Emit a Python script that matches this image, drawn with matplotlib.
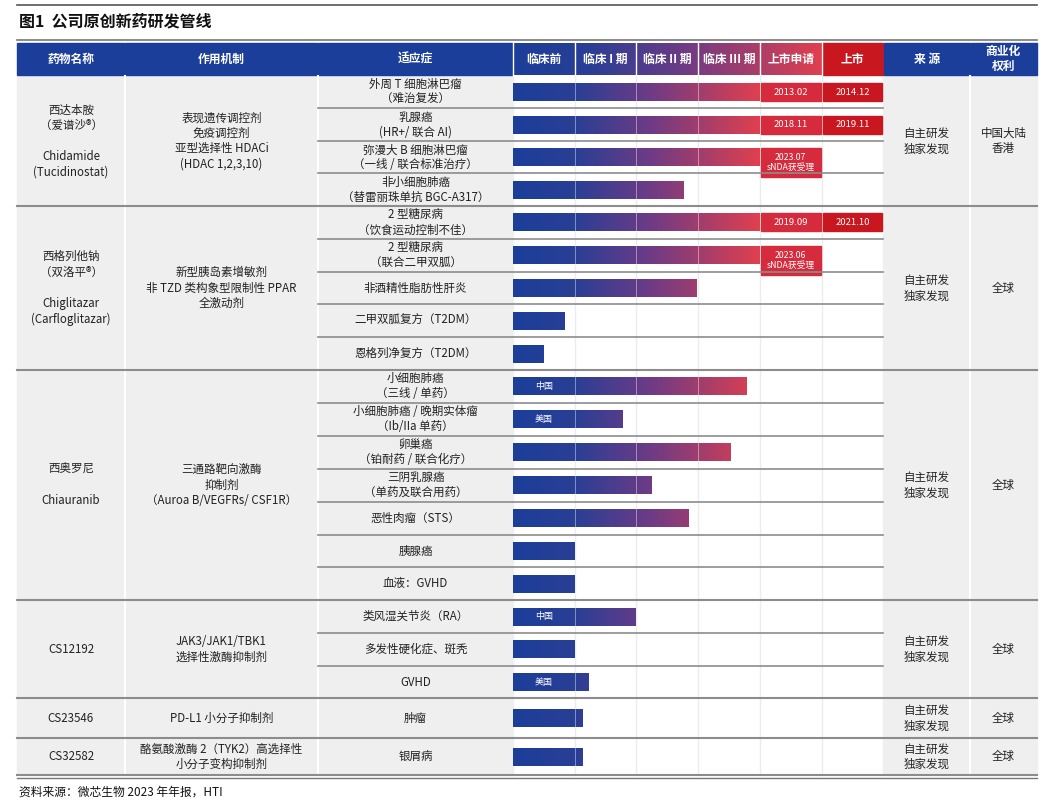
import numpy as np
import matplotlib
matplotlib.use("Agg")
import matplotlib.pyplot as plt
from matplotlib.patches import Rectangle
from matplotlib.colors import LinearSegmentedColormap

plt.rcParams["font.family"] = "Noto Sans CJK SC"

# ---------------- data ----------------
stages = ["临床前", "临床 I 期", "临床 II 期", "临床 III 期", "上市申请", "上市"]
headers_left = ["药物名称", "作用机制", "适应症"]
headers_right = ["来 源", "商业化\n权利"]

drugs = ["西达本胺\n（爱谱沙®）\n\nChidamide\n(Tucidinostat)",
         "西格列他钠\n（双洛平®）\n\nChiglitazar\n(Carfloglitazar)",
         "西奥罗尼\n\nChiauranib",
         "CS12192", "CS23546", "CS32582"]
mechanisms = ["表现遗传调控剂\n免疫调控剂\n亚型选择性 HDACi\n(HDAC 1,2,3,10)",
              "新型胰岛素增敏剂\n非 TZD 类构象型限制性 PPAR\n全激动剂",
              "三通路靶向激酶\n抑制剂\n（Auroa B/VEGFRs/ CSF1R）",
              "JAK3/JAK1/TBK1\n选择性激酶抑制剂",
              "PD-L1 小分子抑制剂",
              "酪氨酸激酶 2（TYK2）高选择性\n小分子变构抑制剂"]
sources = ["自主研发\n独家发现"] * 6
rights = ["中国大陆\n香港", "全球", "全球", "全球", "全球", "全球"]
group_sizes = [4, 5, 7, 3, 1, 1]

indications = ["外周 T 细胞淋巴瘤\n（难治复发）", "乳腺癌\n(HR+/ 联合 AI)",
               "弥漫大 B 细胞淋巴瘤\n（一线 / 联合标准治疗）", "非小细胞肺癌\n（替雷丽珠单抗 BGC-A317）",
               "2 型糖尿病\n（饮食运动控制不佳）", "2 型糖尿病\n（联合二甲双胍）",
               "非酒精性脂肪性肝炎", "二甲双胍复方（T2DM）", "恩格列净复方（T2DM）",
               "小细胞肺癌\n（三线 / 单药）", "小细胞肺癌 / 晚期实体瘤\n（Ib/IIa 单药）",
               "卵巢癌\n（铂耐药 / 联合化疗）", "三阴乳腺癌\n（单药及联合用药）",
               "恶性肉瘤（STS）", "胰腺癌", "血液：GVHD",
               "类风湿关节炎（RA）", "多发性硬化症、斑秃", "GVHD",
               "肿瘤", "银屑病"]
# progress in stage units (0 = start of 临床前, 4 = end of 临床 III 期)
progress = [4.0, 4.0, 4.0, 2.77, 4.0, 4.0, 2.98, 0.84, 0.49,
            3.79, 1.77, 3.52, 2.24, 2.84, 1.0, 1.0,
            1.98, 1.0, 1.22, 1.12, 1.12]
region_tag = {9: "中国", 10: "美国", 16: "中国", 18: "美国"}
filing = {0: "2013.02", 1: "2018.11", 2: "2023.07\nsNDA获受理", 4: "2019.09", 5: "2023.06\nsNDA获受理"}
approval = {0: "2014.12", 1: "2019.11", 4: "2021.10"}

# ---------------- layout ----------------
W, H = 1054, 805
fig = plt.figure(figsize=(W / 100, H / 100), dpi=100)
ax = fig.add_axes([0, 0, 1, 1])
ax.set_xlim(0, W); ax.set_ylim(H, 0); ax.axis("off")

col_x = [17, 125, 318, 513]
stage_w = 61.7
stage_x0 = 513
def sx(v):
    return stage_x0 + v * stage_w
right_x = [sx(6), 970, 1037]
head_top, head_bot = 43, 75
row_h = [32.5] * 4 + [32.8] * 5 + [32.9] * 7 + [32.7] * 3 + [40, 37]
row_top = head_bot + 1 + np.concatenate([[0], np.cumsum(row_h)])

blue = "#1b3e9a"
red = "#e0404f"
cmap = LinearSegmentedColormap.from_list("g", [(0, blue), (0.25, "#2a3f95"), (0.55, "#6c3b86"), (1, red)])
grey_bg = "#efefef"
txt = "#222222"
fs = 8.3

# title
ax.plot([17, 1037], [5, 5], color="#555555", lw=1.2)
ax.text(19, 22, "图1  公司原创新药研发管线", fontsize=11.5, fontweight="bold", va="center", color="#111111")
ax.plot([17, 1037], [40, 40], color="#777777", lw=1.2)

# header
hdr_cols = list(zip(col_x[:-1], col_x[1:]))
for (a, b), t in zip(hdr_cols, headers_left):
    ax.add_patch(Rectangle((a, head_top), b - a - 1, head_bot - head_top, color=blue))
    ax.text((a + b) / 2, (head_top + head_bot) / 2, t, color="white", fontsize=8.5, fontweight="bold", ha="center", va="center")
grad = np.linspace(0, 1, 256).reshape(1, -1)
ax.imshow(grad, cmap=cmap, extent=(sx(0), sx(5), head_bot, head_top), aspect="auto", zorder=1)
ax.add_patch(Rectangle((sx(5), head_top), stage_w, head_bot - head_top, color="#c8171f", zorder=1))
for i, t in enumerate(stages):
    ax.text(sx(i + 0.5), (head_top + head_bot) / 2, t, color="white", fontsize=8.5, fontweight="bold", ha="center", va="center", zorder=3)
    ax.plot([sx(i), sx(i)], [head_top, head_bot], color="white", lw=1, zorder=2)
for (a, b), t in zip(zip(right_x[:-1], right_x[1:]), headers_right):
    ax.add_patch(Rectangle((a + 1, head_top), b - a - 1, head_bot - head_top, color=blue))
    ax.text((a + b) / 2, (head_top + head_bot) / 2, t, color="white", fontsize=8.5, fontweight="bold", ha="center", va="center", linespacing=1.1)

body_top, body_bot = row_top[0], row_top[-1]
ax.add_patch(Rectangle((17, body_top), 513 - 17, body_bot - body_top, color=grey_bg, zorder=0))
ax.add_patch(Rectangle((right_x[0], body_top), 1037 - right_x[0], body_bot - body_top, color=grey_bg, zorder=0))
ax.plot([col_x[1]] * 2, [body_top, body_bot], color="white", lw=1.5)
ax.plot([col_x[2]] * 2, [body_top, body_bot], color="white", lw=1.5)
ax.plot([right_x[1]] * 2, [body_top, body_bot], color="white", lw=1.5)
for i in range(1, 6):
    ax.plot([sx(i)] * 2, [body_top, body_bot], color="#ececec", lw=1, zorder=0.5)

# rows
g_start = 0
for g, n in enumerate(group_sizes):
    y0, y1 = row_top[g_start], row_top[g_start + n]
    yc = (y0 + y1) / 2
    ax.text((col_x[0] + col_x[1]) / 2, yc, drugs[g], fontsize=fs, ha="center", va="center", color=txt, linespacing=1.25)
    ax.text((col_x[1] + col_x[2]) / 2, yc, mechanisms[g], fontsize=fs, ha="center", va="center", color=txt, linespacing=1.25)
    ax.text((right_x[0] + right_x[1]) / 2, yc, sources[g], fontsize=fs, ha="center", va="center", color=txt, linespacing=1.25)
    ax.text((right_x[1] + right_x[2]) / 2, yc, rights[g], fontsize=fs, ha="center", va="center", color=txt, linespacing=1.25)
    for r in range(g_start + 1, g_start + n):
        ax.plot([col_x[2], sx(6)], [row_top[r]] * 2, color="#8c8c8c", lw=1.2, zorder=4)
    if g > 0:
        ax.plot([17, 1037], [y0, y0], color="#8c8c8c", lw=1.5, zorder=4)
    g_start += n
ax.plot([17, 1037], [body_bot, body_bot], color="#8c8c8c", lw=1.5)

bh = 18
for r, (lab, p) in enumerate(zip(indications, progress)):
    y0, y1 = row_top[r], row_top[r + 1]
    yc = (y0 + y1) / 2
    ax.text((col_x[2] + col_x[3]) / 2, yc, lab, fontsize=fs, ha="center", va="center", color=txt, linespacing=1.2)
    im = ax.imshow(grad, cmap=cmap, extent=(sx(0), sx(4), yc + bh / 2, yc - bh / 2), aspect="auto", zorder=2)
    clip = Rectangle((sx(0), yc - bh / 2), sx(p) - sx(0), bh, transform=ax.transData)
    im.set_clip_path(clip)
    for i in range(1, 4):
        if sx(i) < sx(p):
            ax.plot([sx(i)] * 2, [yc - bh / 2, yc + bh / 2], color="white", lw=0.6, alpha=0.5, zorder=3)
    if r in region_tag:
        ax.text(sx(0.5), yc, region_tag[r], fontsize=6.5, color="white", ha="center", va="center", zorder=5)
    for dct, st, col in ((filing, 4, "#d52b3c"), (approval, 5, "#c8171f")):
        if r in dct:
            tall = "\n" in dct[r]
            h = 29 if tall else bh
            top = yc - bh / 2
            ax.add_patch(Rectangle((sx(st) + 1, top), stage_w - 2, h, color=col, zorder=3))
            ax.text(sx(st + 0.5), top + h / 2, dct[r], fontsize=6.8 if not tall else 6.3, color="white",
                    ha="center", va="center", zorder=5, linespacing=1.1)

ax.plot([17, 1037], [778, 778], color="#777777", lw=1)
ax.text(19, 792, "资料来源：微芯生物 2023 年年报，HTI", fontsize=8.5, va="center", color="#111111")

fig.savefig("out.png", dpi=100)
